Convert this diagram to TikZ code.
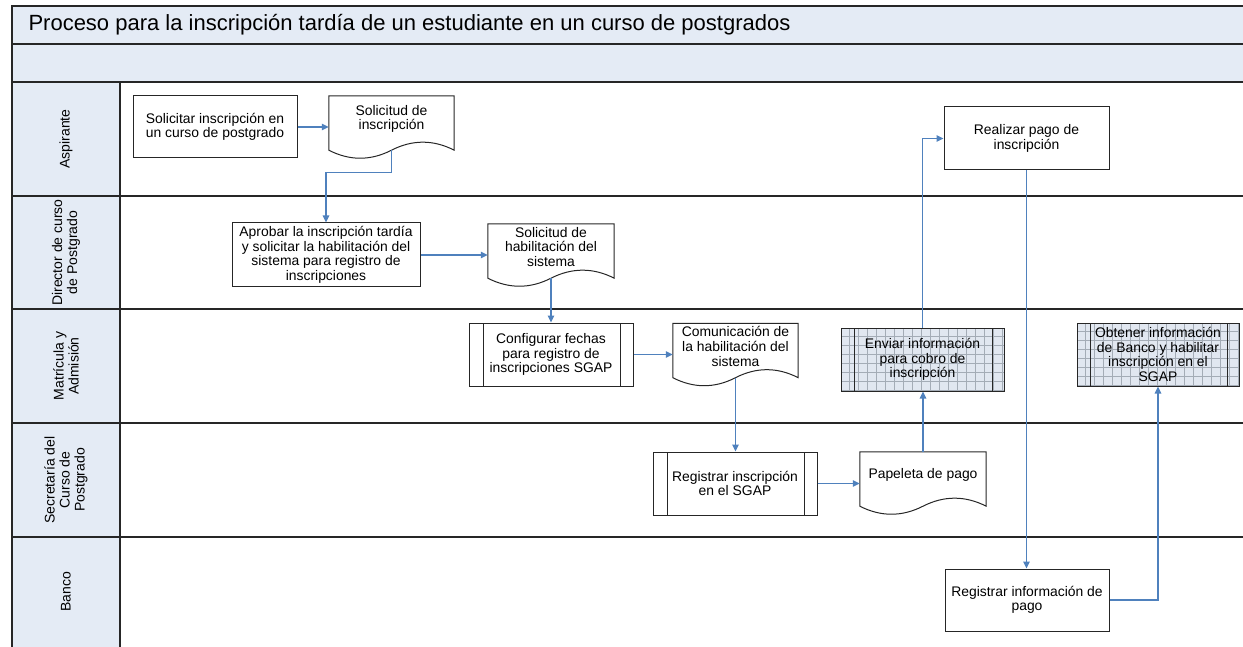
\documentclass[tikz,border=0pt]{standalone}
\usepackage{fontspec}
\setmainfont{Liberation Sans}
\usetikzlibrary{arrows.meta,calc}
\definecolor{bandblue}{HTML}{E4EBF5}
\definecolor{connblue}{HTML}{4F81BD}
\definecolor{edgecol}{HTML}{262626}
\definecolor{gridfill}{HTML}{E1E7F0}
\definecolor{gridln}{HTML}{A4ACB6}
\newcommand\docshape[1]{%
  \path (#1.south west) ++(0,8) coordinate (#1-L)
        (#1.south) ++(0,8) coordinate (#1-M)
        (#1.south east) ++(0,8) coordinate (#1-R);
  \draw[docline] (#1.north west) -- (#1-L)
    .. controls ($(#1-L)!0.333!(#1-M)+(0,10.7)$) and ($(#1-L)!0.667!(#1-M)+(0,10.7)$) .. (#1-M)
    .. controls ($(#1-M)!0.333!(#1-R)+(0,-10.7)$) and ($(#1-M)!0.667!(#1-R)+(0,-10.7)$) .. (#1-R)
    -- (#1.north east) -- cycle;}
\begin{document}
\begin{tikzpicture}[x=1pt,y=-1pt,
  every node/.style={font=\fontsize{13.9pt}{14.6pt}\selectfont, text=black},
  frameline/.style={draw=edgecol, line width=1.3pt},
  lanelabel/.style={rotate=90, align=center, font=\fontsize{14pt}{15pt}\selectfont},
  procbox/.style={draw=edgecol, line width=1pt, fill=white, align=center, inner sep=0pt,
    minimum width=164pt, minimum height=63pt},
  subproc/.style={procbox, path picture={
    \draw[edgecol, line width=0.9pt] ([xshift=14pt]path picture bounding box.north west) -- ([xshift=14pt]path picture bounding box.south west);
    \draw[edgecol, line width=0.9pt] ([xshift=-13pt]path picture bounding box.north east) -- ([xshift=-13pt]path picture bounding box.south east);}},
  gridproc/.style={procbox, fill=gridfill, path picture={
    \foreach \gi in {1,...,19}
      \draw[gridln, line width=0.7pt] ([xshift=\gi*9pt-1pt]path picture bounding box.north west) -- ([xshift=\gi*9pt-1pt]path picture bounding box.south west);
    \foreach \gj in {1,...,7}
      \draw[gridln, line width=0.7pt] ([yshift=-\gj*9pt+1pt]path picture bounding box.north west) -- ([yshift=-\gj*9pt+1pt]path picture bounding box.north east);
    \draw[edgecol, line width=0.9pt] ([xshift=13pt]path picture bounding box.north west) -- ([xshift=13pt]path picture bounding box.south west);
    \draw[edgecol, line width=0.9pt] ([xshift=-12pt]path picture bounding box.north east) -- ([xshift=-12pt]path picture bounding box.south east);}},
  docnode/.style={align=center, inner sep=0pt, minimum width=125pt, minimum height=46pt},
  docline/.style={draw=edgecol, line width=1pt},
  flow/.style={draw=connblue, line width=1.1pt, -{Triangle[length=7pt,width=6.5pt]}}
]
\useasboundingbox (0,0) rectangle (1243,647);
% bands and lane column
\fill[bandblue] (12,6) rectangle (1243,82);
\fill[bandblue] (12,82) rectangle (120,647);
\draw[frameline] (1243,6) -- (12,6) -- (12,647);
\draw[frameline] (12,44) -- (1243,44);
\draw[frameline] (12,82) -- (1243,82);
\draw[frameline] (120,82) -- (120,647);
\foreach \yy in {196,309,423,537} \draw[frameline] (12,\yy) -- (1243,\yy);
% title
\node[anchor=west, font=\fontsize{22pt}{24pt}\selectfont] (title) at (25,25) {Proceso para la inscripción tardía de un estudiante en un curso de postgrados};
% lane labels
\node[lanelabel] (l1) at (66,139) {Aspirante};
\node[lanelabel] (l2) at (66,252.5) {Director de curso\\de Postgrado};
\node[lanelabel] (l3) at (66,366) {Matrícula y\\Admisión};
\node[lanelabel] (l4) at (66,480) {Secretaría del\\Curso de\\Postgrado};
\node[lanelabel] (l5) at (66,592) {Banco};
% process nodes
\node[procbox, minimum height=62pt] (sol) at (215,127) {Solicitar inscripción en\\un curso de postgrado};
\node[docnode] (d1) at (391.5,119) {Solicitud de\\inscripción};
\docshape{d1}
\node[procbox, minimum width=188pt, minimum height=64pt] (aprob) at (326,255) {Aprobar la inscripción tardía\\y solicitar la habilitación del\\sistema para registro de\\inscripciones};
\node[docnode, minimum width=126pt] (d2) at (551,247) {Solicitud de\\habilitación del\\sistema};
\docshape{d2}
\node[subproc] (config) at (551,354.5) {Configurar fechas\\para registro de\\inscripciones SGAP};
\node[docnode] (d3) at (735.5,346.5) {Comunicación de\\la habilitación del\\sistema};
\docshape{d3}
\node[gridproc, minimum width=163pt] (enviar) at (922.5,359.5) {Enviar información\\para cobro de\\inscripción};
\node[gridproc, minimum width=162pt] (obtener) at (1158,354.5) {Obtener información\\de Banco y habilitar\\inscripción en el\\SGAP};
\node[subproc] (regins) at (735,483.5) {Registrar inscripción\\en el SGAP};
\node[docnode, minimum width=126pt] (pap) at (923,475) {Papeleta de pago};
\docshape{pap}
\node[procbox, minimum width=165pt] (realizar) at (1026.5,138.5) {Realizar pago de\\inscripción};
\node[procbox, minimum height=62pt] (reginfo) at (1027,600) {Registrar información de\\pago};
% connectors
\draw[flow] (sol.east) -- (sol.east -| d1.west);
\draw[flow] (d1-M) -- ++(0,22) -| (aprob.north);
\draw[flow] (aprob.east) -- (aprob.east -| d2.west);
\draw[flow] (d2-M) -- (d2-M |- config.north);
\draw[flow] (config.east) -- (config.east -| d3.west);
\draw[flow] (d3-M) -- (d3-M |- regins.north);
\draw[flow] (regins.east) -- (regins.east -| pap.west);
\draw[flow] (pap.north) -- (pap.north |- enviar.south);
\draw[flow] (enviar.north) |- (realizar.west);
\draw[flow] (realizar.south) -- (realizar.south |- reginfo.north);
\draw[flow] (reginfo.east) -| (obtener.south);
\end{tikzpicture}
\end{document}
